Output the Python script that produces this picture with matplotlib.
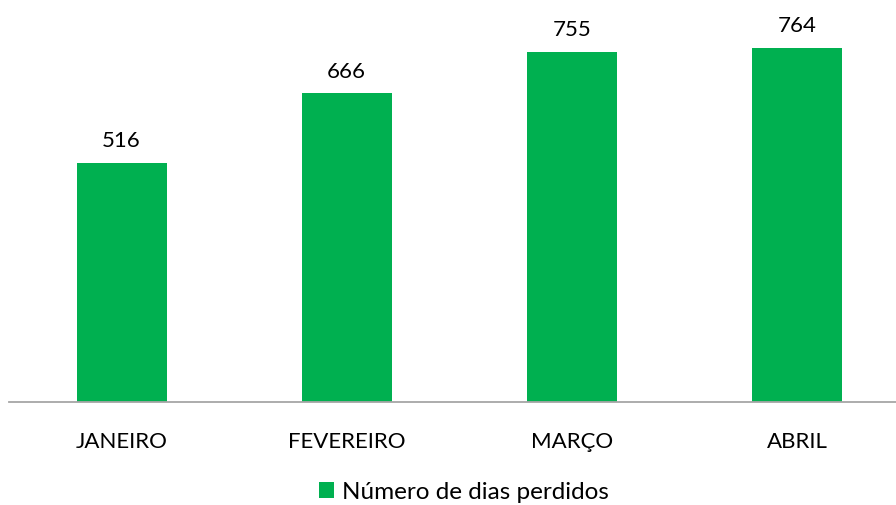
import matplotlib.pyplot as plt

meses = ["JANEIRO", "FEVEREIRO", "MARÇO", "ABRIL"]
dias_perdidos = [516, 666, 755, 764]

plt.rcParams["font.family"] = ["Lato", "DejaVu Sans"]

fig = plt.figure(figsize=(8.96, 5.06), dpi=100)
# axes: left at x=9px, right at 896px, baseline at y=403px, top at y=0
ax = fig.add_axes([9 / 896, (506 - 403) / 506, 887 / 896, 403 / 506])

x = range(len(meses))
bars = ax.bar(x, dias_perdidos, width=0.4, color="#00B050",
              label="Número de dias perdidos")

for xi, v in zip(x, dias_perdidos):
    ax.text(xi, v + 28, str(v), ha="center", va="bottom", fontsize=16, color="#000000")

ax.set_xlim(-0.5, 3.44)
ax.set_ylim(0, 870)
ax.set_xticks(list(x))
ax.set_xticklabels(meses, fontsize=16)
ax.tick_params(axis="x", length=0, pad=21)
ax.set_yticks([])
for s in ["top", "right", "left"]:
    ax.spines[s].set_visible(False)
ax.spines["bottom"].set_color("#A6A6A6")
ax.spines["bottom"].set_linewidth(1.3)

fig.legend(handles=[bars], labels=["Número de dias perdidos"], loc="center",
           bbox_to_anchor=(464 / 896, 1 - 493 / 506), frameon=False, fontsize=17.5,
           handlelength=0.6, handleheight=0.6, handletextpad=0.35)

fig.savefig("out.png", dpi=100)
